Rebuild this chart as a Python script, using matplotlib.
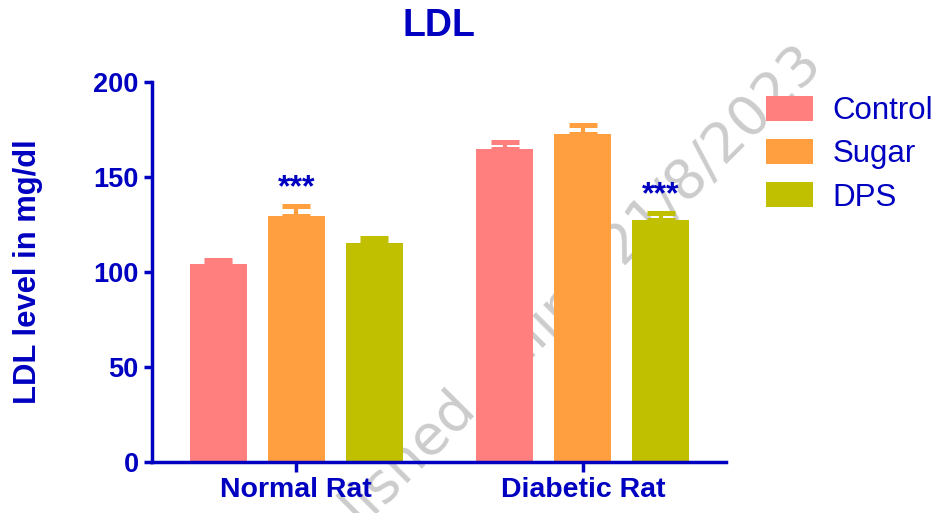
import matplotlib
matplotlib.use("Agg")
import matplotlib.pyplot as plt
import numpy as np

# Data
groups = ["Normal Rat", "Diabetic Rat"]
series = ["Control", "Sugar", "DPS"]
control_mean = [104, 164.5]
sugar_mean = [129.5, 172.5]
dps_mean = [115, 127.5]
control_sem = [2.5, 4]
sugar_sem = [5, 5]
dps_sem = [3, 3.5]
colors = ["#FF7F7F", "#FF9F3F", "#C0C000"]
signif = {("Sugar", 0): "***", ("DPS", 1): "***"}
yticks = [0, 50, 100, 150, 200]

BLUE = "#0000C0"
plt.rcParams["font.family"] = ["Liberation Sans", "DejaVu Sans"]

fig = plt.figure(figsize=(9.39, 5.13), dpi=100)
ax = fig.add_axes([152 / 939, 1 - 462 / 513, (726 - 152) / 939, (462 - 82) / 513])
ax.set_zorder(1)
ax.patch.set_visible(False)

means = [control_mean, sugar_mean, dps_mean]
sems = [control_sem, sugar_sem, dps_sem]
x = np.arange(len(groups))
step = 0.272
width = 0.199

handles = []
for i, (name, m, s, c) in enumerate(zip(series, means, sems, colors)):
    xs = x + (i - 1) * step
    b = ax.bar(xs, m, width=width, color=c, edgecolor="none", label=name, zorder=2)
    handles.append(b)
    ax.errorbar(xs, m, yerr=[np.zeros(len(s)), s], fmt="none", ecolor=c,
                elinewidth=3, capsize=10, capthick=3.6, zorder=1)
    for j in range(len(groups)):
        lab = signif.get((name, j))
        if lab:
            ax.annotate(lab, (xs[j], m[j] + s[j]), xytext=(0, 13),
                        textcoords="offset points", ha="center", va="center",
                        fontsize=23, fontweight="bold", color=BLUE)

ax.set_xlim(-0.504, 1.5)
ax.set_ylim(0, 200)
ax.set_yticks(yticks)
ax.set_xticks(x)
ax.set_xticklabels(groups)
for sp in ["top", "right"]:
    ax.spines[sp].set_visible(False)
for sp in ["left", "bottom"]:
    ax.spines[sp].set_color(BLUE)
    ax.spines[sp].set_linewidth(2.5)
ax.tick_params(axis="both", colors=BLUE, width=2.5, length=6, direction="out")
ax.tick_params(axis="x", length=7, pad=4)
for lbl in ax.get_yticklabels():
    lbl.set_fontsize(19.5)
    lbl.set_fontweight("bold")
    lbl.set_color(BLUE)
for lbl in ax.get_xticklabels():
    lbl.set_fontsize(20.5)
    lbl.set_fontweight("bold")
    lbl.set_color(BLUE)
ax.set_ylabel("LDL level in mg/dl", fontsize=22.3, fontweight="bold", color=BLUE, labelpad=36)
ax.set_title("LDL", fontsize=27, fontweight="bold", color=BLUE, pad=33)

leg = ax.legend(handles=handles, labels=series, loc="upper left",
                bbox_to_anchor=(766 / 939, 1 - 96 / 513), bbox_transform=fig.transFigure,
                frameon=False, fontsize=22.5, handlelength=1.5, handleheight=0.83,
                handletextpad=0.62, labelspacing=0.42, borderpad=0, borderaxespad=0)
for t in leg.get_texts():
    t.set_color(BLUE)

# Publication stamp running diagonally behind the plot
fig.text(824 / 939, 1 - 66 / 513, "Published online 21/8/2023", fontsize=40,
         color="#CCCCCC", rotation=45, rotation_mode="anchor", ha="right",
         va="baseline", family="DejaVu Sans", zorder=0)

fig.savefig("out.png", dpi=100)
